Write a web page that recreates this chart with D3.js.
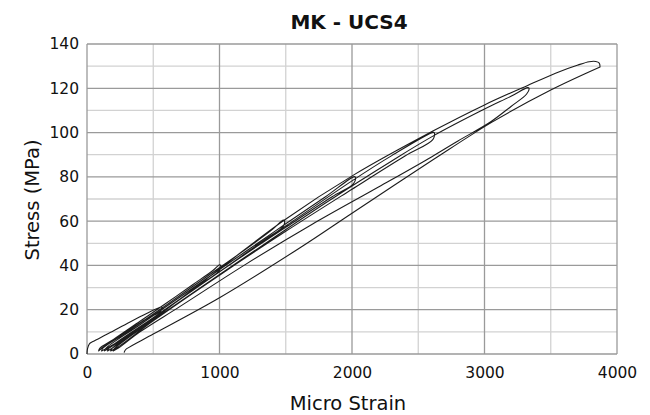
<!DOCTYPE html>
<html>
<head>
<meta charset="utf-8">
<script src="https://cdn.jsdelivr.net/npm/d3@7"></script>
<style>
  body { margin: 0; background: #fff; }
  text { font-family: "DejaVu Sans", Verdana, sans-serif; fill: #111; }
</style>
</head>
<body>
<div id="chart"></div>
<script>
const width = 650;
const height = 415;

// Axis ticks
const xTicks = [0, 1000, 2000, 3000, 4000];
const yTicks = [0, 20, 40, 60, 80, 100, 120, 140];
const xMinor = [500, 1500, 2500, 3500];
const yMinor = [10, 30, 50, 70, 90, 110, 130];

// Cycles: [micro strain, stress MPa]
const load1 = [[0, 0], [4, 2.4], [18, 4.6], [45, 5.6], [150, 8.9], [300, 13.7], [450, 18.3], [560, 21.2]];
const unload1 = [[566, 21.0], [556, 19.4], [440, 15.6], [300, 10.2], [180, 5.6], [110, 2.6], [88, 1.4]];

const load2 = [[88, 1.4], [96, 2.6], [200, 6.6], [400, 14.8], [600, 23.0], [800, 31.4], [950, 37.7], [1000, 40.3]];
const unload2 = [[1008, 40.0], [996, 37.4], [900, 33.2], [700, 24.8], [500, 16.4], [300, 8.0], [150, 2.6], [110, 1.4]];

const load3 = [[110, 1.4], [120, 2.6], [300, 9.8], [600, 22.2], [900, 34.8], [1200, 47.4], [1400, 56.3], [1482, 60.5]];
const unload3 = [[1490, 60.2], [1478, 57.4], [1350, 52.0], [1100, 41.4], [800, 28.8], [500, 16.2], [250, 5.8], [160, 2.4], [132, 1.4]];

const load4 = [[132, 1.4], [142, 2.6], [400, 13.2], [800, 29.8], [1200, 46.4], [1500, 58.8], [1800, 71.0], [2017, 80.1]];
const unload4 = [[2025, 79.8], [2012, 77.0], [1850, 71.0], [1500, 57.2], [1100, 41.2], [700, 24.6], [350, 9.6], [190, 2.6], [155, 1.4]];

const load5 = [[155, 1.4], [166, 2.6], [500, 16.4], [1000, 37.2], [1500, 57.8], [2000, 78.2], [2300, 89.6], [2614, 100.1]];
const unload5 = [[2622, 99.8], [2610, 96.8], [2400, 89.4], [2000, 74.4], [1500, 55.4], [1000, 35.6], [500, 15.0], [225, 2.8], [178, 1.4]];

const load6 = [[178, 1.4], [190, 2.6], [600, 19.4], [1200, 44.0], [1800, 68.2], [2300, 87.2], [2614, 98.5], [3000, 110.6], [3200, 116.4], [3326, 120.3]];
const unload6 = [[3336, 120.0], [3318, 117.4], [3200, 111.8], [3050, 105.0], [2800, 96.2], [2600, 89.0], [2200, 75.4], [1700, 58.6], [1200, 40.6], [700, 21.4], [400, 10.0], [240, 2.8], [198, 1.4]];

const load7 = [[198, 1.4], [210, 2.6], [500, 15.6], [1000, 38.4], [1482, 60.2], [2017, 81.0], [2614, 100.8], [3000, 112.5], [3326, 121.3], [3570, 127.6], [3700, 130.4], [3790, 132.0], [3840, 132.1], [3866, 131.4], [3872, 129.6]];
const unload7 = [[3872, 129.6], [3500, 119.2], [3054, 104.6], [2614, 87.8], [2000, 63.6], [1608, 48.0], [1000, 25.4], [500, 9.0], [300, 2.4], [287, 1.6], [280, 0.6]];

const cycles = [load1, unload1, load2, unload2, load3, unload3, load4, unload4,
                load5, unload5, load6, unload6, load7, unload7];

const margin = { top: 44, right: 33, bottom: 61, left: 87 };
const innerW = width - margin.left - margin.right;
const innerH = height - margin.top - margin.bottom;

const svg = d3.select("#chart").append("svg")
  .attr("width", width)
  .attr("height", height);

const x = d3.scaleLinear().domain([0, 4000]).range([0, innerW]);
const y = d3.scaleLinear().domain([0, 140]).range([innerH, 0]);

const g = svg.append("g").attr("transform", `translate(${margin.left},${margin.top})`);

// minor grid
g.append("g").selectAll("line").data(xMinor).join("line")
  .attr("x1", d => x(d)).attr("x2", d => x(d))
  .attr("y1", 0).attr("y2", innerH)
  .attr("stroke", "#d2d2d2").attr("stroke-width", 1.3);
g.append("g").selectAll("line").data(yMinor).join("line")
  .attr("x1", 0).attr("x2", innerW)
  .attr("y1", d => y(d)).attr("y2", d => y(d))
  .attr("stroke", "#d2d2d2").attr("stroke-width", 1.3);

// major grid
g.append("g").selectAll("line").data(xTicks).join("line")
  .attr("x1", d => x(d)).attr("x2", d => x(d))
  .attr("y1", 0).attr("y2", innerH)
  .attr("stroke", "#9a9a9a").attr("stroke-width", 1.3);
g.append("g").selectAll("line").data(yTicks).join("line")
  .attr("x1", 0).attr("x2", innerW)
  .attr("y1", d => y(d)).attr("y2", d => y(d))
  .attr("stroke", "#9a9a9a").attr("stroke-width", 1.3);

// axes (labels only)
const xAxis = g.append("g")
  .attr("transform", `translate(0,${innerH})`)
  .call(d3.axisBottom(x).tickValues(xTicks).tickSize(0).tickPadding(13).tickFormat(d3.format("d")));
const yAxis = g.append("g")
  .call(d3.axisLeft(y).tickValues(yTicks).tickSize(0).tickPadding(8).tickFormat(d3.format("d")));
[xAxis, yAxis].forEach(a => {
  a.select(".domain").remove();
  a.selectAll("text").attr("font-size", 15.5).attr("fill", "#111")
    .style("font-family", '"DejaVu Sans", Verdana, sans-serif');
});

// the stress-strain path
const line = d3.line()
  .x(d => x(d[0]))
  .y(d => y(d[1]))
  .curve(d3.curveCatmullRom.alpha(0.5));

g.append("path")
  .datum(cycles.flat())
  .attr("fill", "none")
  .attr("stroke", "#1c1c1c")
  .attr("stroke-width", 1.1)
  .attr("stroke-linejoin", "round")
  .attr("d", line);

// titles
svg.append("text")
  .attr("x", 349).attr("y", 29)
  .attr("text-anchor", "middle")
  .attr("font-size", 20).attr("font-weight", "bold")
  .text("MK - UCS4");

svg.append("text")
  .attr("x", 348).attr("y", 410)
  .attr("text-anchor", "middle")
  .attr("font-size", 19.5)
  .text("Micro Strain");

svg.append("text")
  .attr("transform", "translate(39,200) rotate(-90)")
  .attr("text-anchor", "middle")
  .attr("font-size", 19.5)
  .text("Stress (MPa)");
</script>
</body>
</html>
